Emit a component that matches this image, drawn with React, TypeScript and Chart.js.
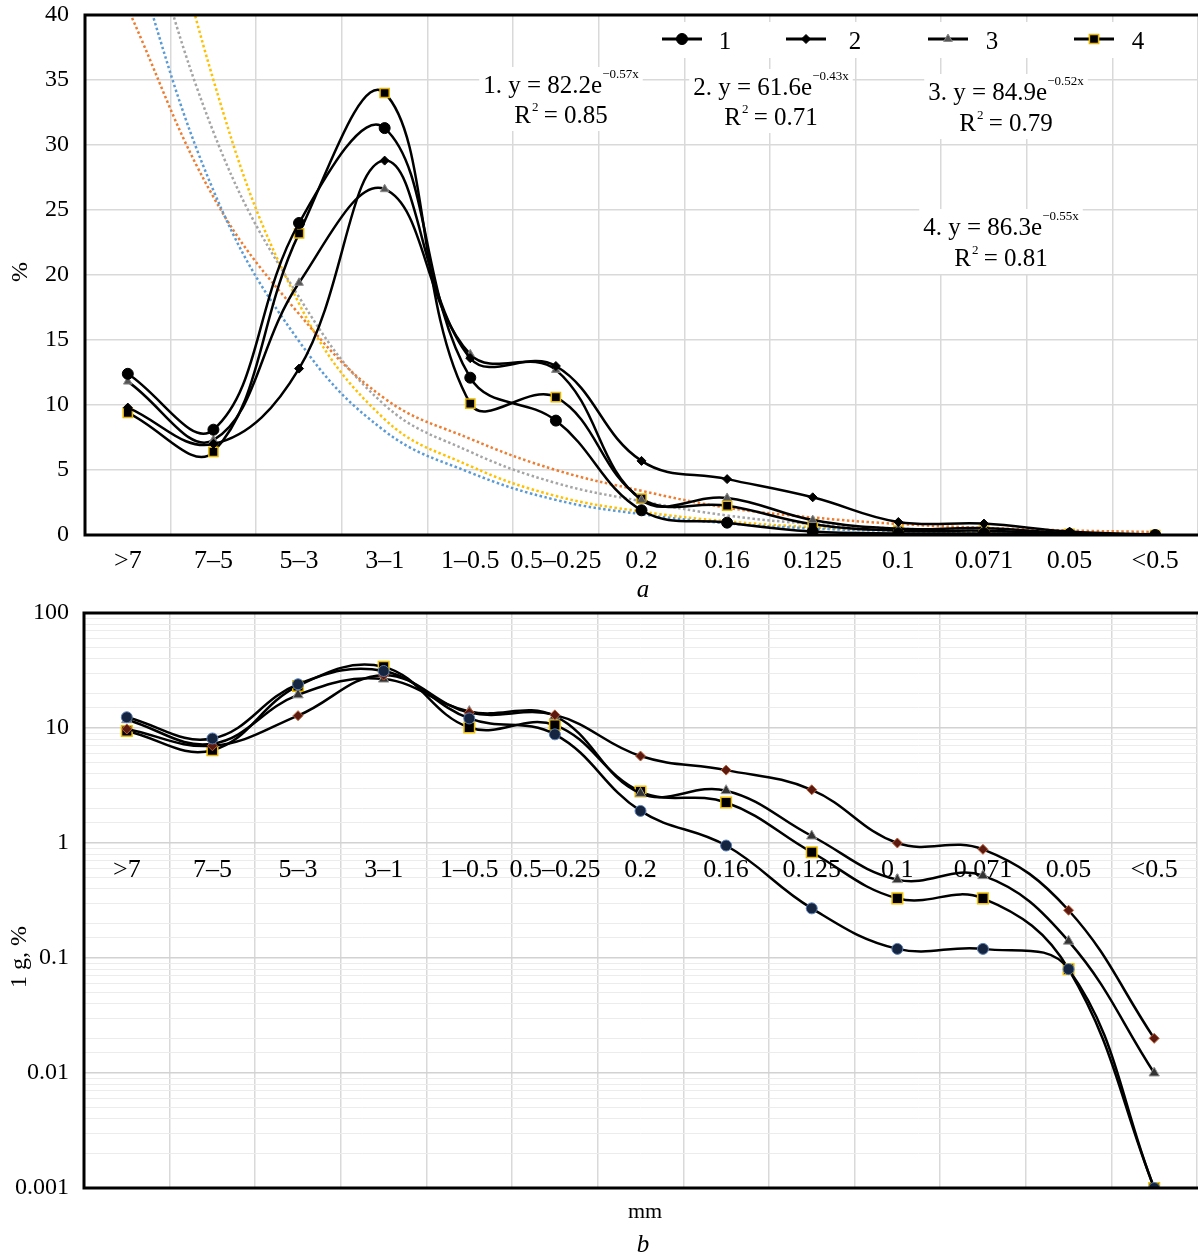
import React, { useEffect, useRef } from 'react';
import { Chart, registerables } from 'chart.js';

Chart.register(...registerables);

// ---------- data ----------
const categories = ['>7', '7–5', '5–3', '3–1', '1–0.5', '0.5–0.25', '0.2', '0.16', '0.125', '0.1', '0.071', '0.05', '<0.5'];
const seriesNames = ['1', '2', '3', '4'];

const series1 = [12.4, 8.1, 24.0, 31.3, 12.1, 8.8, 1.9, 0.95, 0.27, 0.12, 0.12, 0.08, 0.001];
const series2 = [9.8, 7.0, 12.8, 28.8, 13.6, 13.0, 5.7, 4.3, 2.9, 1.0, 0.88, 0.26, 0.02];
const series3 = [11.8, 7.3, 19.4, 26.6, 13.9, 12.7, 2.7, 2.85, 1.15, 0.48, 0.52, 0.14, 0.01];
const series4 = [9.4, 6.4, 23.2, 34.0, 10.1, 10.6, 2.8, 2.25, 0.83, 0.33, 0.33, 0.08, 0.001];

// dotted exponential trend lines, read at each category
const trend1 = [46, 26.5, 14.9, 8.0, 4.8, 2.7, 1.6, 0.9, 0.5, 0.3, 0.17, 0.1, 0.06];
const trend2 = [40.5, 26, 17, 10.5, 7.4, 5.0, 3.4, 2.1, 1.35, 0.85, 0.55, 0.35, 0.23];
const trend3 = [52, 31, 18.3, 10, 6.4, 4.0, 2.6, 1.5, 0.85, 0.5, 0.3, 0.18, 0.1];
const trend4 = [62, 35, 17.8, 8.9, 5.3, 3.0, 1.8, 1.05, 0.6, 0.35, 0.2, 0.12, 0.07];

const eqPrefix = ['1. y = 82.2e', '2. y = 61.6e', '3. y = 84.9e', '4. y = 86.3e'];
const eqExponent = ['−0.57x', '−0.43x', '−0.52x', '−0.55x'];
const eqR2 = ['0.85', '0.71', '0.79', '0.81'];

const logTickValues = [0.001, 0.01, 0.1, 1, 10, 100];
const logTickLabels = ['0.001', '0.01', '0.1', '1', '10', '100'];

// ---------- styles ----------
const FONT = "'Liberation Serif', 'Times New Roman', Times, serif";
const GRID = '#d9d9d9';
const trendColors = ['#5b9bd5', '#ed7d31', '#a5a5a5', '#ffc000'];

type Marker = { style: string; r: number; bg: string; bd: string; bw: number };
const markersA: Marker[] = [
  { style: 'circle', r: 5.5, bg: '#000', bd: '#000', bw: 1 },
  { style: 'rectRot', r: 4.5, bg: '#000', bd: '#000', bw: 1 },
  { style: 'triangle', r: 5, bg: '#555', bd: '#888', bw: 1 },
  { style: 'rect', r: 6.5, bg: '#000', bd: '#e8b800', bw: 1.5 },
];
const markersB: Marker[] = [
  { style: 'circle', r: 5.5, bg: '#16253f', bd: '#5b7fb5', bw: 1 },
  { style: 'rectRot', r: 5, bg: '#5a1a10', bd: '#c0603a', bw: 1 },
  { style: 'triangle', r: 6, bg: '#333', bd: '#999', bw: 1 },
  { style: 'rect', r: 7.5, bg: '#000', bd: '#f0c000', bw: 1.5 },
];

const allSeries = [series1, series2, series3, series4];
const allTrends = [trend1, trend2, trend3, trend4];

function drawMarker(ctx: CanvasRenderingContext2D, m: Marker, x: number, y: number) {
  ctx.save();
  ctx.fillStyle = m.bg;
  ctx.strokeStyle = m.bd;
  ctx.lineWidth = m.bw;
  ctx.beginPath();
  const r = m.r;
  if (m.style === 'circle') ctx.arc(x, y, r, 0, Math.PI * 2);
  else if (m.style === 'rect') {
    const s = r * Math.SQRT1_2;
    ctx.rect(x - s, y - s, 2 * s, 2 * s);
  } else if (m.style === 'rectRot') {
    ctx.moveTo(x, y - r);
    ctx.lineTo(x + r, y);
    ctx.lineTo(x, y + r);
    ctx.lineTo(x - r, y);
    ctx.closePath();
  } else {
    ctx.moveTo(x, y - r);
    ctx.lineTo(x + 0.866 * r, y + 0.5 * r);
    ctx.lineTo(x - 0.866 * r, y + 0.5 * r);
    ctx.closePath();
  }
  ctx.fill();
  ctx.stroke();
  ctx.restore();
}

function drawFrame(chart: any) {
  const { ctx, chartArea: a } = chart;
  ctx.save();
  ctx.strokeStyle = '#000';
  ctx.lineWidth = 3;
  ctx.beginPath();
  ctx.moveTo(a.right + 4, a.top);
  ctx.lineTo(a.left, a.top);
  ctx.lineTo(a.left, a.bottom);
  ctx.lineTo(a.right + 4, a.bottom);
  ctx.stroke();
  ctx.restore();
}

function text(ctx: CanvasRenderingContext2D, s: string, x: number, y: number, font: string, align: CanvasTextAlign = 'center', base: CanvasTextBaseline = 'middle', rotate = 0) {
  ctx.save();
  ctx.font = font;
  ctx.fillStyle = '#000';
  ctx.textAlign = align;
  ctx.textBaseline = base;
  ctx.translate(x, y);
  if (rotate) ctx.rotate(rotate);
  ctx.fillText(s, 0, 0);
  ctx.restore();
}

// equation label placement (centre x, baseline of main line, baseline of R² line)
const eqPlace = [
  { cx: 561, y1: 93, y2: 123 },
  { cx: 771, y1: 95, y2: 125 },
  { cx: 1006, y1: 100, y2: 131 },
  { cx: 1001, y1: 235, y2: 266 },
];
// legend placement
const legendMarkerX = [682, 806, 948, 1094];
const legendTextX = [725, 855, 992, 1138];

const mainFont = `25px ${FONT}`;
const supFont = `13px ${FONT}`;

const panelAPlugin = {
  id: 'panelA',
  beforeDatasetsDraw(chart: any) {
    const ctx: CanvasRenderingContext2D = chart.ctx;
    ctx.save();
    // equations
    eqPrefix.forEach((p, i) => {
      const { cx, y1, y2 } = eqPlace[i];
      ctx.font = mainFont;
      const w1 = ctx.measureText(p).width;
      ctx.font = supFont;
      const w2 = ctx.measureText(eqExponent[i]).width;
      const tot = w1 + w2;
      const x0 = cx - tot / 2;
      ctx.font = mainFont;
      const rest = ' = ' + eqR2[i];
      const wR = ctx.measureText('R').width;
      const wRest = ctx.measureText(rest).width;
      ctx.font = supFont;
      const w2s = ctx.measureText('2').width;
      const tot2 = wR + w2s + wRest;
      const xr = cx - tot2 / 2;
      ctx.fillStyle = '#fff';
      ctx.fillRect(Math.min(x0, xr) - 4, y1 - 26, Math.max(tot, tot2) + 8, y2 - y1 + 34);
      ctx.fillStyle = '#000';
      ctx.textBaseline = 'alphabetic';
      ctx.textAlign = 'left';
      ctx.font = mainFont;
      ctx.fillText(p, x0, y1);
      ctx.font = supFont;
      ctx.fillText(eqExponent[i], x0 + w1, y1 - 15);
      ctx.font = mainFont;
      ctx.fillText('R', xr, y2);
      ctx.font = supFont;
      ctx.fillText('2', xr + wR + 1, y2 - 12);
      ctx.font = mainFont;
      ctx.fillText(rest, xr + wR + w2s, y2);
    });
    // legend
    ctx.fillStyle = '#fff';
    ctx.fillRect(652, 22, 506, 36);
    seriesNames.forEach((n, i) => {
      const mx = legendMarkerX[i];
      ctx.strokeStyle = '#000';
      ctx.lineWidth = 3;
      ctx.beginPath();
      ctx.moveTo(mx - 20, 39);
      ctx.lineTo(mx + 20, 39);
      ctx.stroke();
      drawMarker(ctx, markersA[i], mx, 39);
      text(ctx, n, legendTextX[i], 49, mainFont, 'center', 'alphabetic');
    });
    ctx.restore();
  },
  afterDatasetsDraw(chart: any) {
    drawFrame(chart);
  },
  afterDraw(chart: any) {
    const ctx: CanvasRenderingContext2D = chart.ctx;
    text(ctx, 'a', 643, 590, `italic 25px ${FONT}`);
    text(ctx, '%', 21, 272, `24px ${FONT}`, 'center', 'middle', -Math.PI / 2);
  },
};

const panelBPlugin = {
  id: 'panelB',
  afterDatasetsDraw(chart: any) {
    drawFrame(chart);
  },
  afterDraw(chart: any) {
    const ctx: CanvasRenderingContext2D = chart.ctx;
    text(ctx, 'mm', 645, 612, `22px ${FONT}`);
    text(ctx, 'b', 643, 645, `italic 25px ${FONT}`);
    text(ctx, '1 g, %', 20, 357, `24px ${FONT}`, 'center', 'middle', -Math.PI / 2);
  },
};

function seriesDatasets(markers: Marker[]) {
  return allSeries.map((d, i) => ({
    label: seriesNames[i],
    data: d,
    borderColor: '#000',
    borderWidth: 2.5,
    tension: 0.4,
    fill: false,
    pointStyle: markers[i].style,
    pointRadius: markers[i].r,
    pointBackgroundColor: markers[i].bg,
    pointBorderColor: markers[i].bd,
    pointBorderWidth: markers[i].bw,
    order: 0,
  }));
}

function isPow10(v: number) {
  if (!(v > 0)) return false;
  const l = Math.log10(v);
  return Math.abs(l - Math.round(l)) < 1e-6;
}

function logLabel(v: any) {
  const n = Number(v);
  for (let i = 0; i < logTickValues.length; i++) {
    if (Math.abs(Math.log10(n) - Math.log10(logTickValues[i])) < 1e-6) return logTickLabels[i];
  }
  return '';
}

export default function App() {
  const refA = useRef<HTMLCanvasElement>(null);
  const refB = useRef<HTMLCanvasElement>(null);

  useEffect(() => {
    const trendDatasets = allTrends.map((d, i) => ({
      label: 'trend ' + seriesNames[i],
      data: d,
      borderColor: trendColors[i],
      borderWidth: 2.5,
      borderDash: [2.5, 2.5],
      pointRadius: 0,
      tension: 0.4,
      fill: false,
      order: 5,
    }));

    const chartA = new Chart(refA.current as HTMLCanvasElement, {
      type: 'line',
      data: { labels: categories, datasets: [...seriesDatasets(markersA), ...trendDatasets] as any },
      options: {
        responsive: false,
        animation: false,
        layout: { padding: { top: 0, right: 5, left: 0, bottom: 0 } },
        plugins: { legend: { display: false }, tooltip: { enabled: false } },
        scales: {
          x: {
            offset: true,
            grid: { offset: true, color: GRID, lineWidth: 1.5, drawTicks: false },
            border: { display: false },
            ticks: { color: '#000', font: { family: FONT, size: 26 }, padding: 11, autoSkip: false, maxRotation: 0, minRotation: 0 },
            afterFit: (s: any) => { s.height = 65; },
          },
          y: {
            min: 0,
            max: 40,
            ticks: { stepSize: 5, color: '#000', font: { family: FONT, size: 24, lineHeight: 1.25 }, padding: 0 },
            grid: { color: GRID, lineWidth: 1.5, drawTicks: true, tickLength: 16, tickColor: 'rgba(0,0,0,0)' },
            border: { display: false },
            afterFit: (s: any) => { s.width = 85; },
          },
        },
      } as any,
      plugins: [panelAPlugin],
    });

    const chartB = new Chart(refB.current as HTMLCanvasElement, {
      type: 'line',
      data: { labels: categories, datasets: seriesDatasets(markersB) as any },
      options: {
        responsive: false,
        animation: false,
        layout: { padding: { top: 0, right: 5, left: 0, bottom: 72 } },
        plugins: { legend: { display: false }, tooltip: { enabled: false } },
        scales: {
          x: {
            position: { y: 1 },
            offset: true,
            grid: { offset: true, color: GRID, lineWidth: 1.5, drawTicks: false },
            border: { display: false },
            ticks: { color: '#000', font: { family: FONT, size: 26 }, padding: 12, autoSkip: false, maxRotation: 0, minRotation: 0 },
          },
          y: {
            type: 'logarithmic',
            min: 0.001,
            max: 100,
            ticks: { autoSkip: false, color: '#000', font: { family: FONT, size: 24, lineHeight: 1.08 }, padding: 0, callback: logLabel },
            grid: {
              color: (c: any) => (isPow10(c.tick && c.tick.value) ? '#d2d2d2' : '#ececec'),
              lineWidth: (c: any) => (isPow10(c.tick && c.tick.value) ? 1.5 : 1),
              drawTicks: true,
              tickLength: 15,
              tickColor: 'rgba(0,0,0,0)',
            },
            border: { display: false },
            afterFit: (s: any) => { s.width = 84; },
          },
        },
      } as any,
      plugins: [panelBPlugin],
    });

    return () => {
      chartA.destroy();
      chartB.destroy();
    };
  }, []);

  return (
    <div style={{ position: 'absolute', left: 0, top: 0, width: 1198, height: 1260, overflow: 'hidden', background: '#fff' }}>
      <canvas ref={refA} width={1206} height={600} style={{ position: 'absolute', left: 0, top: 0, width: 1206, height: 600, display: 'block' }} />
      <canvas ref={refB} width={1206} height={660} style={{ position: 'absolute', left: 0, top: 600, width: 1206, height: 660, display: 'block' }} />
    </div>
  );
}
